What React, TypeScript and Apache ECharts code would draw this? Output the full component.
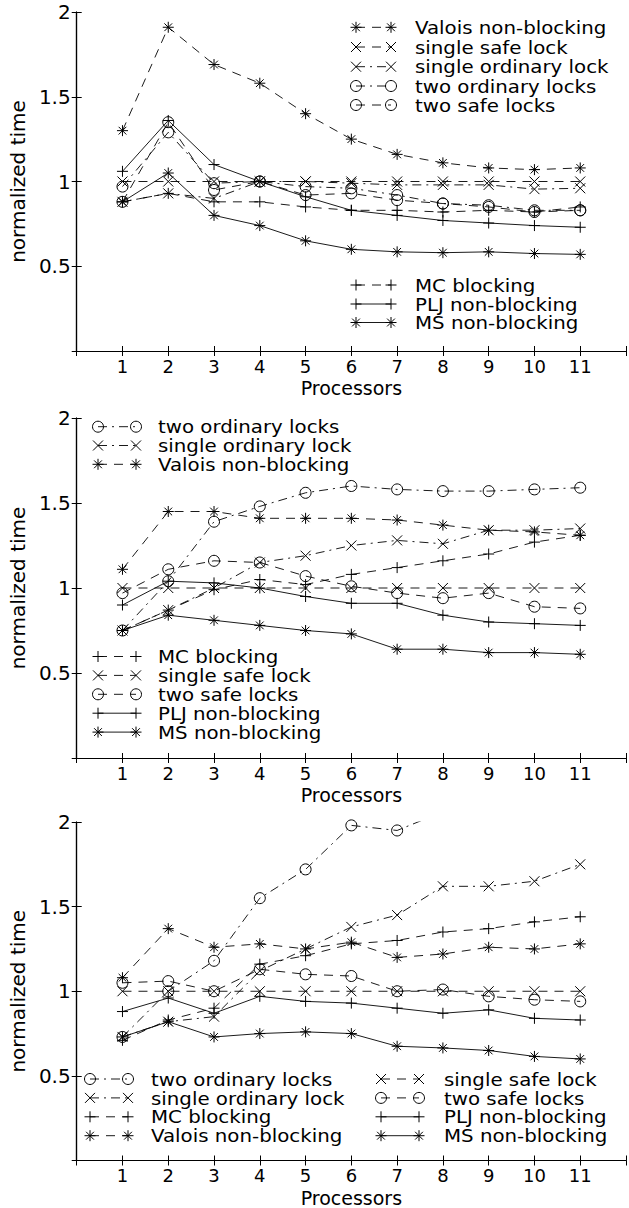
import React, { useEffect, useRef } from 'react';
import * as echarts from 'echarts';

const FONT = 'DejaVu Sans';

// Categories (x values)
const processors = [1, 2, 3, 4, 5, 6, 7, 8, 9, 10, 11];
const xTickLabels = ['1', '2', '3', '4', '5', '6', '7', '8', '9', '10', '11'];
const yTickLabels = ['0.5', '1', '1.5', '2'];

// Panel 1
const p1Valois = [1.3, 1.91, 1.69, 1.58, 1.4, 1.25, 1.16, 1.11, 1.08, 1.07, 1.08];
const p1SingleSafe = [1, 1, 1, 1, 1, 1, 1, 1, 1, 1, 1];
const p1SingleOrd = [0.88, 0.93, 0.9, 1.0, 1.0, 0.99, 0.98, 0.98, 0.98, 0.955, 0.96];
const p1TwoOrd = [0.97, 1.29, 0.99, 1.0, 0.97, 0.96, 0.92, 0.87, 0.86, 0.83, 0.83];
const p1TwoSafe = [0.88, 1.35, 0.95, 1.0, 0.92, 0.93, 0.89, 0.87, 0.85, 0.82, 0.83];
const p1MC = [0.88, 0.93, 0.88, 0.88, 0.85, 0.83, 0.83, 0.82, 0.83, 0.82, 0.85];
const p1PLJ = [1.06, 1.36, 1.1, 1.0, 0.91, 0.83, 0.8, 0.77, 0.755, 0.74, 0.73];
const p1MS = [0.88, 1.05, 0.8, 0.74, 0.65, 0.6, 0.585, 0.58, 0.585, 0.575, 0.57];

// Panel 2
const p2TwoOrd = [0.75, 1.04, 1.39, 1.48, 1.56, 1.6, 1.58, 1.57, 1.57, 1.58, 1.59];
const p2SingleOrd = [0.75, 0.87, 1.0, 1.15, 1.19, 1.25, 1.28, 1.26, 1.34, 1.34, 1.35];
const p2Valois = [1.11, 1.45, 1.45, 1.41, 1.41, 1.41, 1.4, 1.37, 1.34, 1.33, 1.31];
const p2MC = [0.75, 0.87, 0.99, 1.05, 1.02, 1.08, 1.12, 1.16, 1.2, 1.27, 1.31];
const p2SingleSafe = [1, 1, 1, 1, 1, 1, 1, 1, 1, 1, 1];
const p2TwoSafe = [0.97, 1.11, 1.16, 1.15, 1.07, 1.01, 0.97, 0.94, 0.97, 0.89, 0.88];
const p2PLJ = [0.9, 1.04, 1.03, 1.0, 0.95, 0.91, 0.91, 0.84, 0.8, 0.79, 0.78];
const p2MS = [0.75, 0.84, 0.81, 0.78, 0.75, 0.73, 0.64, 0.64, 0.62, 0.62, 0.61];

// Panel 3
const p3TwoOrd = [0.73, 1.0, 1.18, 1.55, 1.72, 1.98, 1.95, 2.06, 2.1, 2.15, 2.2];
const p3SingleSafe = [1, 1, 1, 1, 1, 1, 1, 1, 1, 1, 1];
const p3SingleOrd = [0.73, 0.82, 0.85, 1.12, 1.25, 1.38, 1.45, 1.62, 1.62, 1.65, 1.75];
const p3TwoSafe = [1.05, 1.06, 1.0, 1.13, 1.1, 1.09, 1.0, 1.01, 0.97, 0.95, 0.94];
const p3MC = [0.71, 0.83, 0.9, 1.16, 1.21, 1.28, 1.3, 1.35, 1.37, 1.41, 1.44];
const p3PLJ = [0.88, 0.96, 0.87, 0.97, 0.94, 0.93, 0.9, 0.87, 0.89, 0.84, 0.83];
const p3Valois = [1.08, 1.37, 1.26, 1.28, 1.25, 1.29, 1.2, 1.22, 1.26, 1.25, 1.28];
const p3MS = [0.73, 0.82, 0.73, 0.75, 0.76, 0.75, 0.675, 0.665, 0.65, 0.615, 0.6];

type Kind = 'star' | 'x' | 'plus' | 'o';
type Dash = 'solid' | 'dashed' | 'dashdot';

const STYLE: Record<string, { marker: Kind; dash: Dash }> = {
  'Valois non-blocking': { marker: 'star', dash: 'dashed' },
  'single safe lock': { marker: 'x', dash: 'dashed' },
  'single ordinary lock': { marker: 'x', dash: 'dashdot' },
  'two ordinary locks': { marker: 'o', dash: 'dashdot' },
  'two safe locks': { marker: 'o', dash: 'dashed' },
  'MC blocking': { marker: 'plus', dash: 'dashed' },
  'PLJ non-blocking': { marker: 'plus', dash: 'solid' },
  'MS non-blocking': { marker: 'star', dash: 'solid' },
};

const SYMBOL: Record<Kind, string> = {
  star: 'path://M5 0L5 10M0 5L10 5M1.5 1.5L8.5 8.5M8.5 1.5L1.5 8.5',
  x: 'path://M0 0L10 10M10 0L0 10',
  plus: 'path://M5 0L5 10M0 5L10 5',
  o: 'circle',
};
const SIZE: Record<Kind, number> = { star: 11, x: 10, plus: 11, o: 11 };
const DASHARR: Record<Dash, any> = { solid: 'solid', dashed: [9, 7], dashdot: [9, 5, 2, 5] };

const panelSeries: [string, number[]][][] = [
  [
    ['Valois non-blocking', p1Valois],
    ['single safe lock', p1SingleSafe],
    ['single ordinary lock', p1SingleOrd],
    ['two ordinary locks', p1TwoOrd],
    ['two safe locks', p1TwoSafe],
    ['MC blocking', p1MC],
    ['PLJ non-blocking', p1PLJ],
    ['MS non-blocking', p1MS],
  ],
  [
    ['two ordinary locks', p2TwoOrd],
    ['single ordinary lock', p2SingleOrd],
    ['Valois non-blocking', p2Valois],
    ['MC blocking', p2MC],
    ['single safe lock', p2SingleSafe],
    ['two safe locks', p2TwoSafe],
    ['PLJ non-blocking', p2PLJ],
    ['MS non-blocking', p2MS],
  ],
  [
    ['two ordinary locks', p3TwoOrd],
    ['single ordinary lock', p3SingleOrd],
    ['MC blocking', p3MC],
    ['Valois non-blocking', p3Valois],
    ['single safe lock', p3SingleSafe],
    ['two safe locks', p3TwoSafe],
    ['PLJ non-blocking', p3PLJ],
    ['MS non-blocking', p3MS],
  ],
];

// Layout
const GRID_LEFT = 76;
const GRID_WIDTH = 559;
const PANEL_TOPS = [12, 418, 822];
const PANEL_HEIGHTS = [339, 340, 339];

const LEGENDS: { l: number; r: number; t: number; rows: number[]; names: string[] }[] = [
  { l: 356, r: 391, t: 415, rows: [27.3, 47, 66.7, 86, 105], names: ['Valois non-blocking', 'single safe lock', 'single ordinary lock', 'two ordinary locks', 'two safe locks'] },
  { l: 356, r: 391, t: 415, rows: [285, 304, 322.5], names: ['MC blocking', 'PLJ non-blocking', 'MS non-blocking'] },
  { l: 98, r: 136, t: 158, rows: [426.7, 445.5, 464.3], names: ['two ordinary locks', 'single ordinary lock', 'Valois non-blocking'] },
  { l: 98, r: 136, t: 158, rows: [656.5, 675.4, 694.3, 713.2, 732.1], names: ['MC blocking', 'single safe lock', 'two safe locks', 'PLJ non-blocking', 'MS non-blocking'] },
  { l: 90, r: 128, t: 151, rows: [1079, 1097.9, 1116.8, 1135.7], names: ['two ordinary locks', 'single ordinary lock', 'MC blocking', 'Valois non-blocking'] },
  { l: 381, r: 419, t: 444, rows: [1079, 1097.9, 1116.8, 1135.7], names: ['single safe lock', 'two safe locks', 'PLJ non-blocking', 'MS non-blocking'] },
];

function markerGraphic(kind: Kind, cx: number, cy: number): any[] {
  const st = { stroke: '#000', lineWidth: 1, fill: 'none' };
  const ln = (x1: number, y1: number, x2: number, y2: number) => ({
    type: 'line', silent: true, shape: { x1, y1, x2, y2 }, style: st,
  });
  if (kind === 'x') return [ln(cx - 5, cy - 5, cx + 5, cy + 5), ln(cx - 5, cy + 5, cx + 5, cy - 5)];
  if (kind === 'plus') return [ln(cx - 5.5, cy, cx + 5.5, cy), ln(cx, cy - 5.5, cx, cy + 5.5)];
  if (kind === 'star') {
    const d = 3.9;
    return [
      ln(cx - 5.5, cy, cx + 5.5, cy), ln(cx, cy - 5.5, cx, cy + 5.5),
      ln(cx - d, cy - d, cx + d, cy + d), ln(cx - d, cy + d, cx + d, cy - d),
    ];
  }
  return [{ type: 'circle', silent: true, shape: { cx, cy, r: 5.5 }, style: st }];
}

function buildOption() {
  const grid: any[] = [];
  const xAxis: any[] = [];
  const yAxis: any[] = [];
  const series: any[] = [];
  const axisLine = { show: true, lineStyle: { color: '#000', width: 1.2 } };
  const axisTick = { show: true, inside: true, length: 5, lineStyle: { color: '#000', width: 1 } };

  PANEL_TOPS.forEach((top, k) => {
    grid.push({ left: GRID_LEFT, top, width: GRID_WIDTH, height: PANEL_HEIGHTS[k], containLabel: false });
    xAxis.push({
      gridIndex: k, type: 'value', min: 0, max: 12, interval: 1, position: 'bottom',
      axisLine, axisTick, splitLine: { show: false },
      axisLabel: {
        color: '#000', fontSize: 18, fontFamily: FONT, margin: 6,
        formatter: (v: number) => (v >= 1 && v <= 11 ? xTickLabels[v - 1] : ''),
      },
      name: 'Processors', nameLocation: 'middle', nameGap: 27.5,
      nameTextStyle: { color: '#000', fontSize: 19, fontFamily: FONT },
    });
    xAxis.push({
      gridIndex: k, type: 'value', min: 0, max: 12, interval: 1, position: 'top',
      axisLine, axisTick, splitLine: { show: false }, axisLabel: { show: false },
    });
    yAxis.push({
      gridIndex: k, type: 'value', min: 0, max: 2, interval: 0.5, position: 'left',
      axisLine, axisTick, splitLine: { show: false },
      axisLabel: {
        color: '#000', fontSize: 20, fontFamily: FONT, margin: 6,
        formatter: (v: number) => {
          const s = String(v);
          return yTickLabels.indexOf(s) >= 0 ? s : '';
        },
      },
      name: 'normalized time', nameLocation: 'middle', nameGap: 36, nameRotate: 90,
      nameTextStyle: { color: '#000', fontSize: 20, fontFamily: FONT },
    });
    yAxis.push({
      gridIndex: k, type: 'value', min: 0, max: 2, interval: 0.5, position: 'right',
      axisLine, axisTick, splitLine: { show: false }, axisLabel: { show: false },
    });

    panelSeries[k].forEach(([name, values]) => {
      const st = STYLE[name];
      series.push({
        type: 'line',
        name,
        xAxisIndex: 2 * k,
        yAxisIndex: 2 * k,
        data: processors.map((p, i) => [p, values[i]]),
        symbol: SYMBOL[st.marker],
        symbolSize: SIZE[st.marker],
        showSymbol: true,
        showAllSymbol: true,
        clip: true,
        lineStyle: { color: '#000', width: 0.9, type: DASHARR[st.dash] },
        itemStyle: { color: 'none', borderColor: '#000', borderWidth: 1 },
        emphasis: { disabled: true },
        silent: true,
      });
    });
  });

  const graphic: any[] = [];
  LEGENDS.forEach((lg) => {
    lg.names.forEach((name, i) => {
      const cy = lg.rows[i];
      const st = STYLE[name];
      graphic.push({
        type: 'line', silent: true,
        shape: { x1: lg.l, y1: cy, x2: lg.r, y2: cy },
        style: {
          stroke: '#000', lineWidth: 0.9,
          lineDash: st.dash === 'solid' ? null : DASHARR[st.dash],
        },
      });
      markerGraphic(st.marker, lg.l, cy).forEach((g) => graphic.push(g));
      markerGraphic(st.marker, lg.r, cy).forEach((g) => graphic.push(g));
      graphic.push({
        type: 'text', silent: true, x: lg.t, y: cy, scaleX: 1.1, scaleY: 1,
        style: {
          text: name, fill: '#000', fontSize: 18, fontFamily: FONT,
          align: 'left', verticalAlign: 'middle',
        },
      });
    });
  });

  return {
    animation: false,
    backgroundColor: '#fff',
    textStyle: { fontFamily: FONT, color: '#000' },
    grid,
    xAxis,
    yAxis,
    series,
    graphic,
  };
}

export default function App() {
  const ref = useRef<HTMLDivElement>(null);
  useEffect(() => {
    if (!ref.current) return;
    const chart = echarts.init(ref.current, undefined, { renderer: 'svg' });
    chart.setOption(buildOption() as any);
    return () => chart.dispose();
  }, []);
  return (
    <div
      ref={ref}
      style={{ position: 'absolute', left: 0, top: 0, width: 629, height: 1208, background: '#fff' }}
    />
  );
}
